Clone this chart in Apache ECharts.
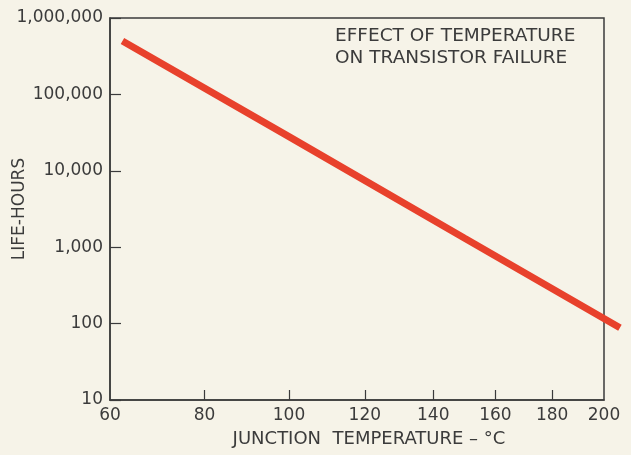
<!DOCTYPE html>
<html>
<head>
<meta charset="utf-8">
<script src="https://cdn.jsdelivr.net/npm/echarts@6/dist/echarts.min.js"></script>
<style>
html,body{margin:0;padding:0;background:#f6f3e8;}
#chart{width:631px;height:455px;}
</style>
</head>
<body>
<div id="chart"></div>
<script>
// Data (junction temperature in °C, life in hours)
const temperatures = [62.5, 100, 150, 206.5];
const lifeHours = [500000, 28000, 1300, 88];
const xTickLabels = [60, 80, 100, 120, 140, 160, 180, 200];
const yTickLabels = [10, 100, 1000, 10000, 100000, 1000000];
const titleLines = ['EFFECT OF TEMPERATURE', 'ON TRANSISTOR FAILURE'];

// Reciprocal absolute temperature scale (Arrhenius plot)
const toU = t => 1000 / (t + 273.15);
const fromU = u => 1000 / u - 273.15;

const textColor = '#3b3b3b';
const font = 'DejaVu Sans';

// layout (pixels)
const W = 631, gLeft = 110, gRight = 27, gTop = 18, gBottom = 55, overRight = 3;
const uMax = toU(xTickLabels[0]);
const uMin = toU(xTickLabels[xTickLabels.length - 1]);
const plotW = W - gLeft - gRight;
// the curve continues past the 200 °C frame edge, so it lives on a hidden, wider twin axis with the same scale
const uMinWide = uMin - (gRight - overRight) / plotW * (uMax - uMin);

const chart = echarts.init(document.getElementById('chart'), null, {renderer: 'canvas'});
chart.setOption({
  backgroundColor: '#f6f3e8',
  animation: false,
  title: {
    text: titleLines.join('\n'),
    left: 335,
    top: 25,
    padding: 0,
    textStyle: {fontFamily: font, fontSize: 18.5, fontWeight: 'normal', color: textColor, lineHeight: 22}
  },
  grid: [{
    left: gLeft, right: gRight, top: gTop, bottom: gBottom,
    containLabel: false,
    outerBoundsMode: 'none',
    show: true, borderColor: '#3b3b3b', borderWidth: 1.5, backgroundColor: 'transparent'
  }, {
    left: gLeft, right: overRight, top: gTop, bottom: gBottom,
    containLabel: false,
    outerBoundsMode: 'none',
    show: false
  }],
  xAxis: [{
    type: 'value',
    gridIndex: 0,
    inverse: true,
    min: uMin,
    max: uMax,
    name: 'JUNCTION  TEMPERATURE – °C',
    nameLocation: 'middle',
    nameGap: 30,
    nameTextStyle: {fontFamily: font, fontSize: 18, color: textColor, padding: [0, 0, 0, 24]},
    axisLine: {show: true, lineStyle: {color: '#3b3b3b', width: 1.5}},
    axisTick: {show: true, inside: true, length: 10, lineStyle: {color: '#3b3b3b', width: 1.2},
      customValues: xTickLabels.slice(1, -1).map(toU)},
    axisLabel: {fontFamily: font, fontSize: 17, color: textColor, margin: 7,
      customValues: xTickLabels.map(toU),
      formatter: v => String(Math.round(fromU(v)))},
    splitLine: {show: false}
  }, {
    type: 'value',
    gridIndex: 1,
    inverse: true,
    min: uMinWide,
    max: uMax,
    show: false
  }],
  yAxis: [{
    type: 'log',
    gridIndex: 0,
    logBase: 10,
    min: yTickLabels[0],
    max: yTickLabels[yTickLabels.length - 1],
    name: 'LIFE-HOURS',
    nameLocation: 'middle',
    nameGap: 82,
    nameMoveOverlap: false,
    nameTextStyle: {fontFamily: font, fontSize: 17, color: textColor},
    axisLine: {show: true, lineStyle: {color: '#3b3b3b', width: 1.5}},
    axisTick: {show: true, inside: true, length: 11, lineStyle: {color: '#3b3b3b', width: 1.2}},
    axisLabel: {fontFamily: font, fontSize: 17, color: textColor, margin: 7,
      formatter: v => Number(v).toLocaleString('en-US')},
    splitLine: {show: false}
  }, {
    type: 'log',
    gridIndex: 1,
    logBase: 10,
    min: yTickLabels[0],
    max: yTickLabels[yTickLabels.length - 1],
    show: false
  }],
  series: [{
    type: 'line',
    xAxisIndex: 1,
    yAxisIndex: 1,
    data: temperatures.map((t, i) => [toU(t), lifeHours[i]]),
    showSymbol: false,
    clip: false,
    lineStyle: {color: '#e8412c', width: 7, cap: 'butt'}
  }]
});
</script>
</body>
</html>
